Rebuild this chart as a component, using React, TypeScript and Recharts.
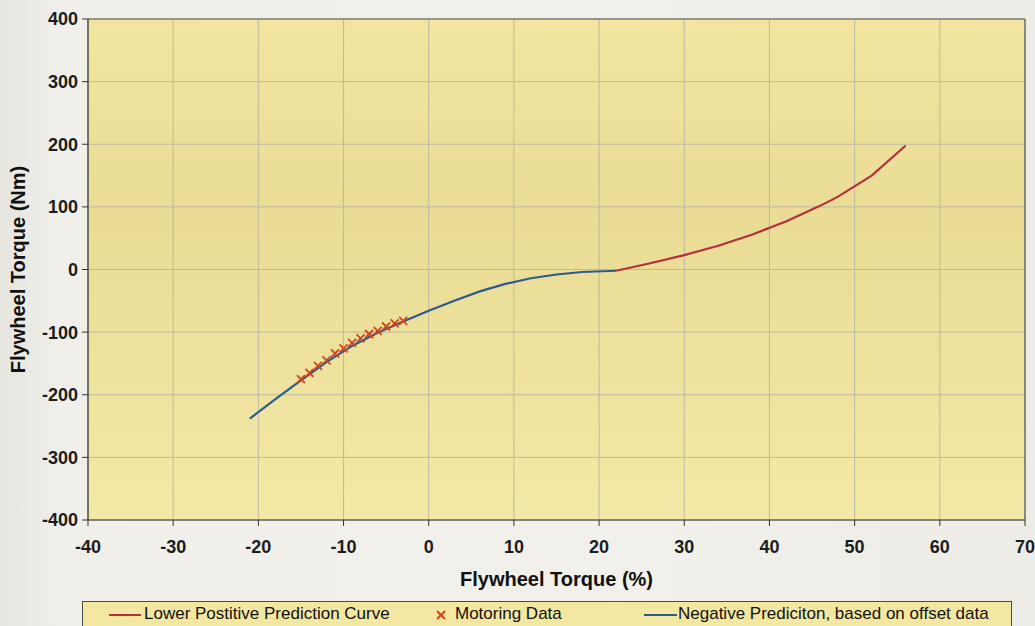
import React from "react";
import {
  ComposedChart,
  Line,
  Scatter,
  XAxis,
  YAxis,
  CartesianGrid,
  ReferenceLine,
  Label,
} from "recharts";

// ---- data ----
const positiveX = [22, 26, 30, 34, 38, 42, 46, 48, 52, 56];
const positiveY = [-2, 10, 23, 38, 56, 77, 102, 116, 150, 198];

const negativeX = [-21, -18, -15, -12, -9, -6, -3, 0, 3, 6, 9, 12, 15, 18, 22];
const negativeY = [-238, -207, -177, -148, -122, -101, -83, -66, -50, -35, -23, -14, -8, -4, -2];

const motoringX = [-15, -14, -13, -12, -11, -10, -9, -8, -7, -6, -5, -4, -3];
const motoringY = [-175, -165, -154, -145, -134, -126, -117, -110, -103, -98, -91, -86, -82];

const xTicks = [-40, -30, -20, -10, 0, 10, 20, 30, 40, 50, 60, 70];
const yTicks = [-400, -300, -200, -100, 0, 100, 200, 300, 400];

const seriesNames = [
  "Lower Postitive Prediction Curve",
  "Motoring Data",
  "Negative Prediciton, based on offset data",
];

const zip = (xs: number[], ys: number[]) => xs.map((x, i) => ({ x, y: ys[i] }));
const positiveData = zip(positiveX, positiveY);
const negativeData = zip(negativeX, negativeY);
const motoringData = zip(motoringX, motoringY);

const RED = "#b3303e";
const BLUE = "#2c5c8e";
const CROSS = "#d2441a";
const FONT = "'Liberation Sans', Arial, sans-serif";

const Cross = (props: any) => {
  const { cx, cy } = props;
  if (cx == null || cy == null) return null;
  const s = 4;
  return (
    <g stroke={CROSS} strokeWidth={1.8}>
      <line x1={cx - s} y1={cy - s} x2={cx + s} y2={cy + s} />
      <line x1={cx - s} y1={cy + s} x2={cx + s} y2={cy - s} />
    </g>
  );
};

const tickStyle = { fill: "#1c1c1c", fontSize: 18, fontWeight: "bold" as const, fontFamily: FONT };

const YTitle = (props: any) => {
  const vb = props.viewBox || {};
  const cx = 18;
  const cy = (vb.y ?? 0) + (vb.height ?? 0) / 2;
  return (
    <text
      x={cx}
      y={cy}
      transform={`rotate(-90 ${cx} ${cy})`}
      textAnchor="middle"
      dominantBaseline="central"
      fill="#111"
      fontSize={20}
      fontWeight="bold"
      fontFamily={FONT}
    >
      Flywheel Torque (Nm)
    </text>
  );
};

export default function App() {
  return (
    <div
      style={{
        position: "absolute",
        left: 0,
        top: 0,
        width: 1035,
        height: 626,
        overflow: "hidden",
        background: "linear-gradient(90deg, #e6e5de 0%, #f0efea 6%, #f1f0eb 60%, #edece6 100%)",
        fontFamily: FONT,
      }}
    >
      <ComposedChart
        width={1035}
        height={626}
        margin={{ top: 19, right: 10, bottom: 36, left: 28 }}
      >
        <defs>
          <linearGradient id="plotBg" x1="0" y1="0" x2="0" y2="1">
            <stop offset="0%" stopColor="#f2e59f" />
            <stop offset="40%" stopColor="#eadc95" />
            <stop offset="60%" stopColor="#ede09a" />
            <stop offset="100%" stopColor="#f4e8a6" />
          </linearGradient>
        </defs>
        <CartesianGrid stroke="#bdb8a4" strokeWidth={1} fill="url(#plotBg)" fillOpacity={1} />
        <XAxis
          type="number"
          dataKey="x"
          domain={[-40, 70]}
          ticks={xTicks}
          allowDataOverflow
          height={70}
          tickSize={6}
          tickMargin={14}
          axisLine={{ stroke: "#333", strokeWidth: 1.2 }}
          tickLine={{ stroke: "#333" }}
          tick={tickStyle}
          interval={0}
        >
          <Label
            value="Flywheel Torque (%)"
            position="insideBottom"
            offset={4}
            style={{ fill: "#111", fontSize: 20, fontWeight: "bold", fontFamily: FONT }}
          />
        </XAxis>
        <YAxis
          type="number"
          dataKey="y"
          domain={[-400, 400]}
          ticks={yTicks}
          allowDataOverflow
          width={60}
          tickSize={6}
          tickMargin={4}
          axisLine={{ stroke: "#333", strokeWidth: 1.2 }}
          tickLine={{ stroke: "#333" }}
          tick={tickStyle}
          interval={0}
        >
          <Label content={<YTitle />} />
        </YAxis>
        <ReferenceLine y={400} stroke="#5a5a5a" strokeWidth={1.2} />
        <ReferenceLine x={70} stroke="#5a5a5a" strokeWidth={1.2} />
        <Line
          data={negativeData}
          dataKey="y"
          name={seriesNames[2]}
          type="linear"
          stroke={BLUE}
          strokeWidth={2.2}
          dot={false}
          activeDot={false}
          isAnimationActive={false}
        />
        <Line
          data={positiveData}
          dataKey="y"
          name={seriesNames[0]}
          type="linear"
          stroke={RED}
          strokeWidth={2.2}
          dot={false}
          activeDot={false}
          isAnimationActive={false}
        />
        <Scatter
          data={motoringData}
          dataKey="y"
          name={seriesNames[1]}
          shape={<Cross />}
          isAnimationActive={false}
        />
      </ComposedChart>

      {/* legend */}
      <div
        style={{
          position: "absolute",
          left: 82,
          top: 601,
          width: 930,
          height: 32,
          background: "#f3e7a2",
          border: "1px solid #4a4a4a",
          boxSizing: "border-box",
          fontSize: 17,
          color: "#111",
        }}
      >
        <div style={{ position: "absolute", left: 26, top: 12, width: 32, height: 2, background: RED }} />
        <div style={{ position: "absolute", left: 61, top: 2, lineHeight: "20px", whiteSpace: "nowrap" }}>
          {seriesNames[0]}
        </div>
        <svg style={{ position: "absolute", left: 353, top: 8 }} width={10} height={10}>
          <line x1={1} y1={1} x2={9} y2={9} stroke={CROSS} strokeWidth={2} />
          <line x1={1} y1={9} x2={9} y2={1} stroke={CROSS} strokeWidth={2} />
        </svg>
        <div style={{ position: "absolute", left: 372, top: 2, lineHeight: "20px", whiteSpace: "nowrap" }}>
          {seriesNames[1]}
        </div>
        <div style={{ position: "absolute", left: 561, top: 12, width: 33, height: 2, background: BLUE }} />
        <div style={{ position: "absolute", left: 595, top: 2, lineHeight: "20px", whiteSpace: "nowrap" }}>
          {seriesNames[2]}
        </div>
      </div>
    </div>
  );
}
